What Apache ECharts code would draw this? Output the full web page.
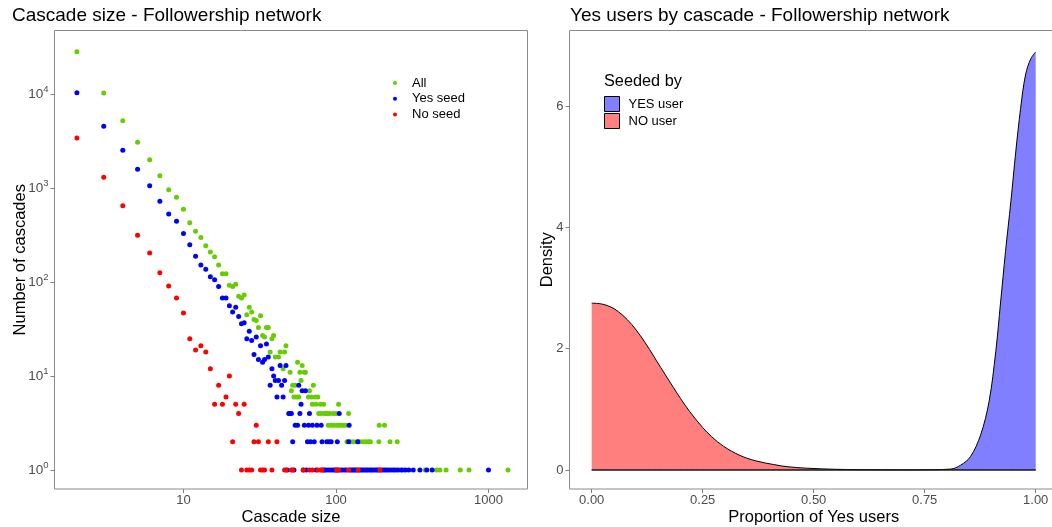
<!DOCTYPE html>
<html><head><meta charset="utf-8">
<script src="https://cdn.jsdelivr.net/npm/echarts@6/dist/echarts.min.js"></script>
<style>html,body{margin:0;padding:0;background:#fff;overflow:hidden}#c{width:1052px;height:527px}</style>
</head><body><div id="c"></div>
<script>
const FONT = 'Liberation Sans, Arial, Helvetica, sans-serif';

// ---- Left panel: cascade size distribution ----
const allSizes  = [2,3,4,5,6,7,8,9,10,11,12,13,14,15,16,17,18,19,20,21,22,23,24,25,26,27,28,29,30,31,32,33,34,35,36,37,38,39,40,42,43,45,46,47,50,51,52,53,54,55,56,57,58,59,60,62,63,66,67,69,70,71,73,74,76,77,79,80,83,84,86,88,89,91,93,96,97,100,102,104,105,109,112,116,118,121,124,130,137,143,150,157,163,168,191,192,208,226,252,263,276,384,456,480,527,653,745,1343];
const allCounts = [28500,10350,5250,3090,2018,1362,966,802,597,430,348,300,245,210,187,152,123,123,93,90,95,71,68,73,45,54,48,40,39,33,44,27,26,33,33,18,25,27,16,16,18,12,18,21,11,7,8,6,8,6,14,6,11,9,13,11,11,6,7,6,5,8,6,5,6,4,5,4,5,4,4,4,3,4,3,4,3,4,3,5,3,3,3,3,2,4,2,2,2,2,2,2,2,2,2,3,3,2,2,1,1,1,1,1,1,1,1,1];

const yesSizes  = [2,3,4,5,6,7,8,9,10,11,12,13,14,15,16,17,18,19,20,21,22,23,24,25,26,27,28,29,30,31,32,33,34,35,36,37,38,39,40,41,42,43,44,45,46,47,48,49,50,51,52,53,54,56,57,58,59,60,61,62,63,64,65,66,67,68,70,72,74,75,80,81,82,84,86,87,89,90,92,93,95,98,100,102,103,105,107,110,114,117,121,122,123,126,129,132,135,138,139,143,146,150,154,158,162,167,171,176,181,186,190,197,203,209,215,222,230,238,246,255,270,285,300,321,355,394,427,1000];
const yesCounts = [10400,4570,2540,1592,1066,727,532,445,329,251,189,152,137,114,106,90,68,68,56,48,54,43,36,37,25,30,24,17,26,15,21,14,15,22,16,8,12,10,9,6,9,13,8,6,9,13,1,4,4,4,2,1,3,3,8,4,5,7,1,3,7,1,2,3,4,2,3,2,1,3,3,2,1,1,1,2,1,2,1,2,1,1,1,2,1,4,1,1,1,1,2,3,1,1,1,1,1,1,2,1,1,1,1,1,1,1,1,1,1,1,1,1,1,1,1,1,1,1,1,1,1,1,1,1,1,1,1,1];

const noSizes  = [2,3,4,5,6,7,8,9,10,11,12,13,14,15,16,17,18,19,20,21,22,23,24,25,26,27,28,29,30,31,32,33,34,36,38,41,46,47,51,52,61,67,70,76,79,81,101,104,121,140,194];
const noCounts = [3435,1309,653,316,205,126,91,68,47,25,19,21,18,12,5,8,5,6,10,2,5,4,1,5,1,1,1,2,3,2,1,1,1,2,1,2,1,1,1,1,1,1,1,1,1,1,1,1,1,1,1];

const xTickVals = [10, 100, 1000];
const yTickVals = [1, 10, 100, 1000, 10000];

// ---- Right panel: density of proportion of Yes users ----
const noPropX = [0,0.02,0.035,0.05,0.07,0.09,0.11,0.13,0.146,0.165,0.184,0.20,0.221,0.25,0.27,0.297,0.334,0.37,0.41,0.44,0.484,0.55,0.65,0.8,1.0];
const noDens  = [2.75,2.74,2.71,2.66,2.55,2.40,2.21,1.99,1.80,1.58,1.36,1.18,0.96,0.70,0.55,0.39,0.24,0.15,0.09,0.055,0.03,0.012,0.004,0.001,0];
const yesPropX = [0,0.3,0.5,0.6,0.7,0.763,0.808,0.831,0.853,0.876,0.895,0.910,0.921,0.932,0.944,0.955,0.966,0.977,0.989,1.0];
const yesDens  = [0,0,0,0,0.001,0.004,0.015,0.08,0.22,0.58,1.13,1.95,2.77,3.60,4.42,5.24,5.96,6.51,6.78,6.89];
const propTicks = [0, 0.25, 0.5, 0.75, 1];
const densTicks = [0, 2, 4, 6];

const zip = (a, b) => a.map((v, i) => [v, b[i]]);

const tickCol = '#808080';
const labCol = '#4d4d4d';
const frame = '#8a8a8a';
const nameStyle = {fontSize: 16.5, color: '#000', fontFamily: FONT};

const chart = echarts.init(document.getElementById('c'), null, {renderer: 'canvas'});
chart.setOption({
  animation: false,
  backgroundColor: '#fff',
  textStyle: {fontFamily: FONT},
  title: [
    {text: 'Cascade size - Followership network', left: 12, top: 6, padding: 0,
     textStyle: {fontSize: 19, fontWeight: 'normal', color: '#000', fontFamily: FONT}},
    {text: 'Yes users by cascade - Followership network', left: 570, top: 6, padding: 0,
     textStyle: {fontSize: 19, fontWeight: 'normal', color: '#000', fontFamily: FONT}},
    {text: 'Seeded by', left: 604, top: 73.5, padding: 0,
     textStyle: {fontSize: 16.3, fontWeight: 'normal', color: '#000', fontFamily: FONT}}
  ],
  legend: [
    {data: ['All', 'Yes seed', 'No seed'], orient: 'vertical', left: 393, top: 76.5, padding: 0,
     icon: 'circle', itemWidth: 24, itemHeight: 4, itemGap: 2.8,
     textStyle: {fontSize: 13, color: '#000', fontFamily: FONT}},
    {data: [{name: 'YES user', itemStyle: {color: '#8080FF'}}, {name: 'NO user', itemStyle: {color: '#FF8080'}}],
     orient: 'vertical', left: 604, top: 96, padding: 0, icon: 'rect', itemWidth: 15, itemHeight: 15, itemGap: 1,
     itemStyle: {borderColor: '#000', borderWidth: 1},
     textStyle: {fontSize: 13, color: '#000', fontFamily: FONT, padding: [0, 0, 0, 4]}}
  ],
  grid: [
    {left: 54.5, top: 30.5, width: 473, height: 458.5, show: true, borderColor: frame, borderWidth: 1,
     outerBoundsMode: 'none', containLabel: false},
    {left: 569.5, top: 30.5, width: 488.4, height: 458.5, show: true, borderColor: frame, borderWidth: 1,
     outerBoundsMode: 'none', containLabel: false}
  ],
  xAxis: [
    {type: 'log', logBase: 10, gridIndex: 0, min: 1.4262, max: 1802,
     axisLine: {show: false}, splitLine: {show: false}, minorTick: {show: false},
     axisTick: {length: 4, lineStyle: {color: tickCol}, customValues: xTickVals},
     axisLabel: {customValues: xTickVals, margin: 5, color: labCol, fontSize: 13, fontFamily: FONT,
                 formatter: v => String(Math.round(v))},
     name: 'Cascade size', nameLocation: 'middle', nameGap: 20, nameMoveOverlap: false,
     nameTextStyle: nameStyle},
    {type: 'value', gridIndex: 1, min: -0.05, max: 1.05,
     axisLine: {show: false, onZero: false}, splitLine: {show: false},
     axisTick: {length: 4, lineStyle: {color: tickCol}, customValues: propTicks},
     axisLabel: {customValues: propTicks, margin: 5, color: labCol, fontSize: 13, fontFamily: FONT,
                 formatter: v => v.toFixed(2)},
     name: 'Proportion of Yes users', nameLocation: 'middle', nameGap: 20, nameMoveOverlap: false,
     nameTextStyle: nameStyle}
  ],
  yAxis: [
    {type: 'log', logBase: 10, gridIndex: 0, min: 0.6277, max: 47863,
     axisLine: {show: false, onZero: false}, splitLine: {show: false},
     axisTick: {length: 4, lineStyle: {color: tickCol}, customValues: yTickVals},
     axisLabel: {customValues: yTickVals, margin: 6, color: labCol, fontSize: 13.5, fontFamily: FONT,
                 formatter: v => '10{s|' + Math.round(Math.log10(v)) + '}',
                 rich: {s: {fontSize: 9.5, color: labCol, fontFamily: FONT, padding: [0, 0, 9, 0]}}},
     name: 'Number of cascades', nameLocation: 'middle', nameGap: 26, nameMoveOverlap: false,
     nameTextStyle: nameStyle},
    {type: 'value', gridIndex: 1, min: -0.313, max: 7.244,
     axisLine: {show: false, onZero: false}, splitLine: {show: false},
     axisTick: {length: 4, lineStyle: {color: tickCol}, customValues: densTicks},
     axisLabel: {customValues: densTicks, margin: 6, color: labCol, fontSize: 13, fontFamily: FONT},
     name: 'Density', nameLocation: 'middle', nameGap: 14, nameMoveOverlap: false,
     nameTextStyle: nameStyle}
  ],
  series: [
    {name: 'All', type: 'scatter', xAxisIndex: 0, yAxisIndex: 0, symbolSize: 5,
     itemStyle: {color: '#66CD00', opacity: 1}, data: zip(allSizes, allCounts)},
    {name: 'Yes seed', type: 'scatter', xAxisIndex: 0, yAxisIndex: 0, symbolSize: 5,
     itemStyle: {color: '#0000FF', opacity: 1}, data: zip(yesSizes, yesCounts)},
    {name: 'No seed', type: 'scatter', xAxisIndex: 0, yAxisIndex: 0, symbolSize: 5,
     itemStyle: {color: '#FF0000', opacity: 1}, data: zip(noSizes, noCounts)},
    {name: 'NO user', type: 'line', xAxisIndex: 1, yAxisIndex: 1, symbol: 'none', smooth: 0.35,
     itemStyle: {color: '#FF8080'}, lineStyle: {color: '#000', width: 1},
     areaStyle: {color: '#FF0000', opacity: 0.5, origin: 0}, data: zip(noPropX, noDens)},
    {name: 'YES user', type: 'line', xAxisIndex: 1, yAxisIndex: 1, symbol: 'none', smooth: 0.35,
     itemStyle: {color: '#8080FF'}, lineStyle: {color: '#000', width: 1},
     areaStyle: {color: '#0000FF', opacity: 0.5, origin: 0}, data: zip(yesPropX, yesDens)},
    {name: 'base', type: 'line', xAxisIndex: 1, yAxisIndex: 1, symbol: 'none',
     lineStyle: {color: '#222', width: 1}, data: [[0, 0], [1, 0]], z: 5}
  ]
});
</script></body></html>
